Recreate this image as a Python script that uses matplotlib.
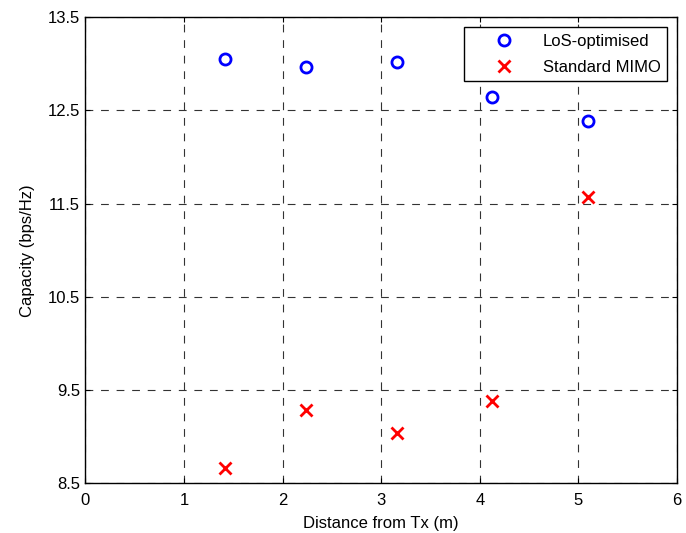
import numpy as np
import matplotlib.pyplot as plt

plt.rcParams['font.family'] = ['Liberation Sans', 'DejaVu Sans']

dist = [1.41, 2.24, 3.16, 4.12, 5.10]
cap_los = [13.05, 12.96, 13.02, 12.64, 12.39]
cap_std = [8.66, 9.29, 9.04, 9.38, 11.57]

fig = plt.figure(figsize=(6.86, 5.33), dpi=100)
ax = fig.add_axes([0.1246, 0.0932, 0.8624, 0.8748])

ax.plot(dist, cap_los, 'o', color='blue', mfc='none', mew=2, ms=8, label='LoS-optimised')
ax.plot(dist, cap_std, 'x', color='red', mew=2, ms=8, label='Standard MIMO')

ax.set_xlim(0, 6)
ax.set_ylim(8.5, 13.5)
ax.set_xticks(range(0, 7))
ax.set_yticks([8.5, 9.5, 10.5, 11.5, 12.5, 13.5])
ax.set_yticklabels(['8.5', '9.5', '10.5', '11.5', '12.5', '13.5'])
ax.grid(True, color='#333333', linestyle=(0, (7, 7)), linewidth=0.8)
ax.tick_params(direction='in', labelsize=12, top=True, right=True)
ax.tick_params(axis='x', pad=7)
ax.tick_params(axis='y', pad=4)
for s in ax.spines.values():
    s.set_linewidth(1)
ax.set_xlabel('Distance from Tx (m)', fontsize=12, labelpad=6)
ax.set_ylabel('Capacity (bps/Hz)', fontsize=12, labelpad=9)

leg = ax.legend(loc='upper right', fontsize=12, fancybox=False, edgecolor='black',
                framealpha=1, borderpad=0.4, handlelength=4.0, handletextpad=0.3,
                labelspacing=0.65, borderaxespad=0.6, numpoints=1)
leg.get_frame().set_linewidth(1)

fig.savefig('out.png', dpi=100)
